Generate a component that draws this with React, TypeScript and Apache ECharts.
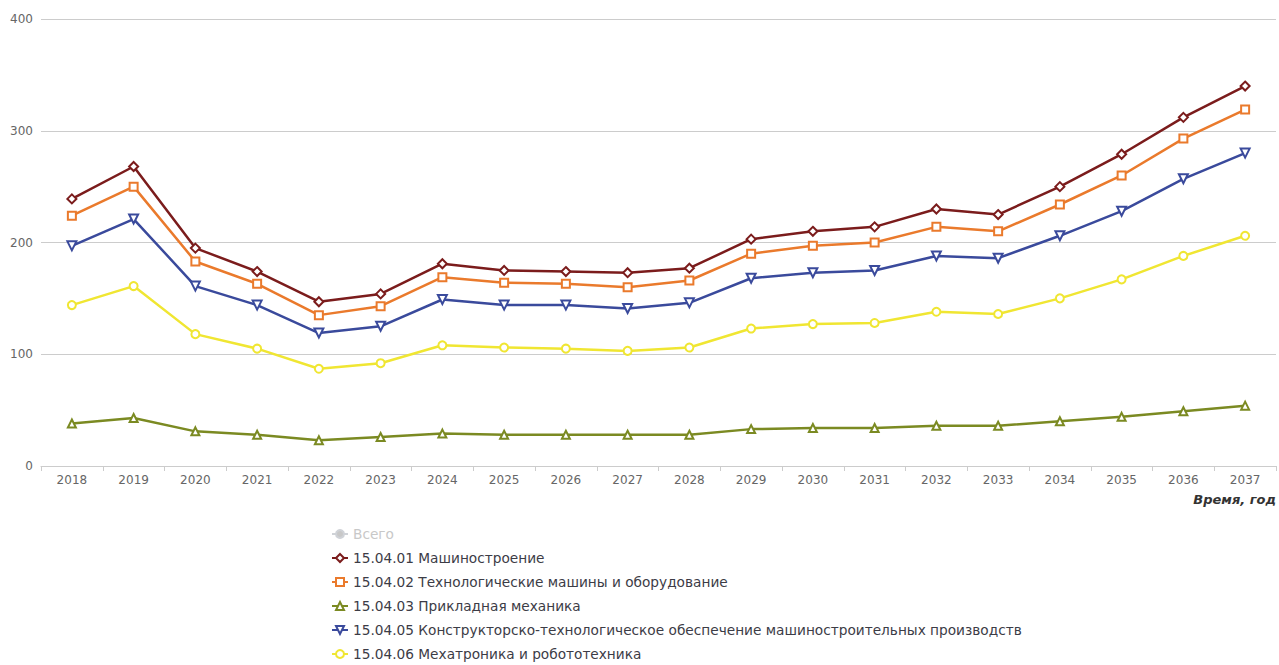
import React, { useEffect, useRef } from "react";
import * as echarts from "echarts";

const years = ["2018","2019","2020","2021","2022","2023","2024","2025","2026","2027","2028","2029","2030","2031","2032","2033","2034","2035","2036","2037"];

const seriesNames = [
  "Всего",
  "15.04.01 Машиностроение",
  "15.04.02 Технологические машины и оборудование",
  "15.04.03 Прикладная механика",
  "15.04.05 Конструкторско-технологическое обеспечение машиностроительных производств",
  "15.04.06 Мехатроника и робототехника",
];

const vsego: number[] = [];
const mash = [239, 268, 195, 174, 147, 154, 181, 175, 174, 173, 177, 203, 210, 214, 230, 225, 250, 279, 312, 340];
const tekh = [224, 250, 183, 163, 135, 143, 169, 164, 163, 160, 166, 190, 197, 200, 214, 210, 234, 260, 293, 319];
const prikl = [38, 43, 31, 28, 23, 26, 29, 28, 28, 28, 28, 33, 34, 34, 36, 36, 40, 44, 49, 54];
const konstr = [197, 221, 161, 144, 119, 125, 149, 144, 144, 141, 146, 168, 173, 175, 188, 186, 206, 228, 257, 280];
const mekh = [144, 161, 118, 105, 87, 92, 108, 106, 105, 103, 106, 123, 127, 128, 138, 136, 150, 167, 188, 206];

const yTicks = { min: 0, max: 400, interval: 100 };

const colors = ["#c8c8c8", "#7b1c1c", "#ea7a2c", "#7b8a22", "#3a4a9c", "#f0e632"];
const symbols = ["circle", "diamond", "rect", "triangle", "path://M0,0 L10,0 L5,10 Z", "circle"];
const datasets = [vsego, mash, tekh, prikl, konstr, mekh];

export default function App() {
  const ref = useRef<HTMLDivElement>(null);
  useEffect(() => {
    if (!ref.current) return;
    const chart = echarts.init(ref.current, null, { renderer: "svg" });
    const font = "'DejaVu Sans', sans-serif";
    chart.setOption({
      animation: false,
      backgroundColor: "#ffffff",
      grid: { left: 41, right: 3, top: 19, bottom: 199, containLabel: false },
      legend: {
        orient: "vertical",
        left: 326,
        top: 521,
        height: 170,
        padding: 5,
        itemGap: 8,
        itemWidth: 16,
        itemHeight: 10,
        selected: { "Всего": false },
        inactiveColor: "#c8c8c8",
        textStyle: { fontFamily: font, fontSize: 13.7, color: "#3c3c46", lineHeight: 16 },
        data: seriesNames,
      },
      xAxis: {
        type: "category",
        data: years,
        boundaryGap: true,
        axisLine: { show: true, lineStyle: { color: "#cccccc", width: 1 } },
        axisTick: { show: true, alignWithLabel: false, length: 5, lineStyle: { color: "#cccccc" } },
        axisLabel: { fontFamily: font, fontSize: 12, color: "#666666", margin: 8 },
      },
      yAxis: {
        type: "value",
        min: yTicks.min,
        max: yTicks.max,
        interval: yTicks.interval,
        axisLine: { show: false },
        axisTick: { show: false },
        axisLabel: { fontFamily: font, fontSize: 12, color: "#666666", margin: 8 },
        splitLine: { lineStyle: { color: "#cccccc", width: 1 } },
      },
      graphic: [
        {
          type: "text",
          right: 3,
          top: 493,
          style: {
            text: "Время, год",
            font: "italic bold 13px 'DejaVu Sans', sans-serif",
            fill: "#333333",
          },
        },
      ],
      series: seriesNames.map((name, i) => ({
        name,
        type: "line",
        data: datasets[i],
        symbol: symbols[i],
        symbolSize: i === 4 ? 9 : i === 1 ? 9 : 8,
        showSymbol: true,
        itemStyle: { color: "#ffffff", borderColor: colors[i], borderWidth: 2 },
        lineStyle: { color: colors[i], width: 2.5 },
        color: colors[i],
      })),
    });
    return () => chart.dispose();
  }, []);
  return (
    <div
      ref={ref}
      style={{ position: "fixed", left: 0, top: 0, width: 1279, height: 665 }}
    />
  );
}
